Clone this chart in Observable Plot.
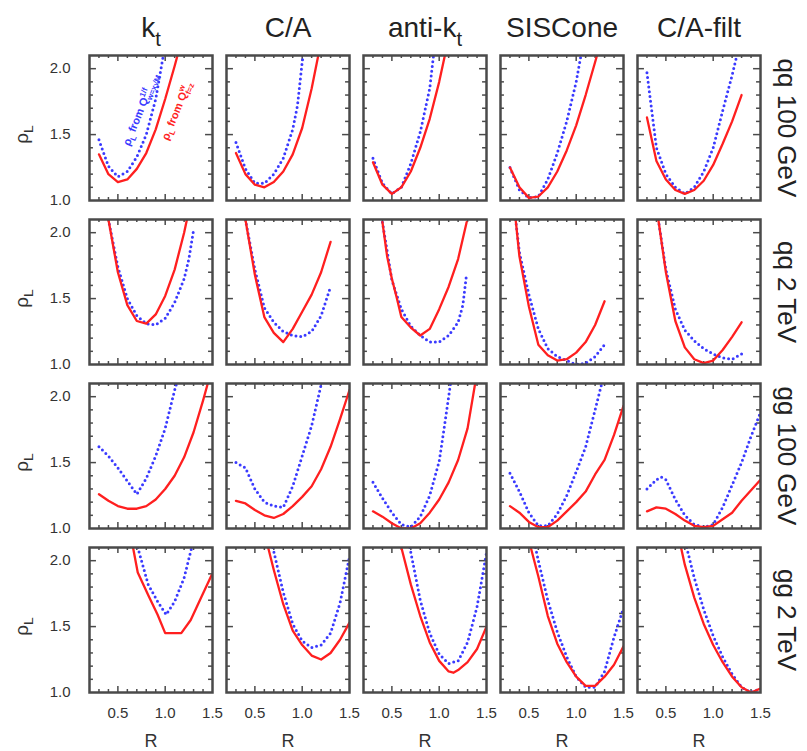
<!DOCTYPE html>
<html><head><meta charset="utf-8">
<script src="https://cdn.jsdelivr.net/npm/d3@7"></script>
<script src="https://cdn.jsdelivr.net/npm/@observablehq/plot@0.6"></script>
<style>
body{margin:0;background:#fff;}
svg{font-family:"Liberation Sans",Arial,Helvetica,sans-serif;}
</style>
</head><body><div id="chart"></div>
<script>
// ---- categories ----
const algorithms = ["k_t", "C/A", "anti-k_t", "SISCone", "C/A-filt"];
const processes = ["qq 100 GeV", "qq 2 TeV", "gg 100 GeV", "gg 2 TeV"];
const xTickLabels = [0.5, 1.0, 1.5];
const yTickLabels = [1.0, 1.5, 2.0];
const xMinorTicks = [0.3, 0.4, 0.6, 0.7, 0.8, 0.9, 1.1, 1.2, 1.3, 1.4];
const xMajorTicks = [0.5, 1.0];
const yMinorTicks = [1.1, 1.2, 1.3, 1.4, 1.6, 1.7, 1.8, 1.9];
const yMajorTicks = [1.5, 2.0];

// ---- series: [R, rho_L]; red = from Q^w_{f=z} (solid), blue = from Q^{1/f}_{w} (dotted) ----
// qq 100 GeV
const kt_qq100_red   = [[0.3,1.35],[0.4,1.2],[0.5,1.14],[0.6,1.16],[0.7,1.24],[0.8,1.36],[0.9,1.54],[1.0,1.77],[1.1,2.02],[1.13,2.1]];
const kt_qq100_blue  = [[0.3,1.46],[0.4,1.26],[0.5,1.18],[0.6,1.22],[0.7,1.33],[0.8,1.5],[0.9,1.77],[0.98,2.1]];
const ca_qq100_red   = [[0.3,1.36],[0.4,1.2],[0.5,1.12],[0.6,1.1],[0.7,1.14],[0.8,1.22],[0.9,1.35],[1.0,1.55],[1.1,1.85],[1.17,2.1]];
const ca_qq100_blue  = [[0.3,1.44],[0.4,1.24],[0.5,1.13],[0.6,1.13],[0.7,1.2],[0.8,1.32],[0.9,1.54],[0.95,1.72],[1.0,2.05],[1.01,2.1]];
const akt_qq100_red  = [[0.3,1.29],[0.4,1.12],[0.5,1.05],[0.6,1.1],[0.7,1.22],[0.8,1.4],[0.9,1.62],[1.0,1.9],[1.06,2.1]];
const akt_qq100_blue = [[0.3,1.32],[0.4,1.13],[0.5,1.05],[0.6,1.1],[0.7,1.28],[0.8,1.52],[0.9,1.85],[0.94,2.1]];
const sis_qq100_red  = [[0.3,1.25],[0.4,1.1],[0.5,1.02],[0.6,1.03],[0.7,1.1],[0.8,1.22],[0.9,1.38],[1.0,1.57],[1.1,1.8],[1.22,2.1]];
const sis_qq100_blue = [[0.3,1.25],[0.4,1.08],[0.5,1.02],[0.6,1.03],[0.7,1.16],[0.8,1.36],[0.9,1.6],[1.0,1.9],[1.05,2.1]];
const filt_qq100_red = [[0.3,1.63],[0.4,1.3],[0.5,1.16],[0.6,1.08],[0.7,1.05],[0.8,1.08],[0.9,1.15],[1.0,1.27],[1.1,1.43],[1.2,1.6],[1.3,1.8]];
const filt_qq100_blue= [[0.3,1.97],[0.4,1.4],[0.5,1.2],[0.6,1.1],[0.7,1.05],[0.8,1.1],[0.9,1.22],[1.0,1.4],[1.1,1.68],[1.2,1.95],[1.25,2.1]];
// qq 2 TeV
const kt_qq2_red   = [[0.4,2.1],[0.5,1.7],[0.6,1.45],[0.7,1.33],[0.8,1.31],[0.9,1.38],[1.0,1.52],[1.1,1.72],[1.2,2.0],[1.23,2.1]];
const kt_qq2_blue  = [[0.4,2.1],[0.5,1.74],[0.6,1.5],[0.7,1.37],[0.8,1.31],[0.9,1.3],[1.0,1.35],[1.1,1.47],[1.2,1.65],[1.25,1.8],[1.3,2.02]];
const ca_qq2_red   = [[0.4,2.1],[0.5,1.68],[0.6,1.36],[0.7,1.24],[0.8,1.17],[0.9,1.27],[1.0,1.4],[1.1,1.53],[1.2,1.7],[1.3,1.93]];
const ca_qq2_blue  = [[0.4,2.1],[0.5,1.72],[0.6,1.43],[0.7,1.32],[0.8,1.25],[0.9,1.22],[1.0,1.21],[1.1,1.25],[1.2,1.37],[1.3,1.59]];
const akt_qq2_red  = [[0.4,2.08],[0.45,1.82],[0.5,1.65],[0.55,1.51],[0.6,1.36],[0.7,1.28],[0.8,1.22],[0.9,1.27],[1.0,1.42],[1.1,1.59],[1.2,1.8],[1.29,2.08]];
const akt_qq2_blue = [[0.4,2.08],[0.5,1.64],[0.6,1.42],[0.7,1.29],[0.8,1.22],[0.9,1.17],[1.0,1.17],[1.1,1.22],[1.2,1.32],[1.25,1.45],[1.29,1.69]];
const sis_qq2_red  = [[0.36,2.1],[0.4,1.82],[0.5,1.44],[0.6,1.15],[0.7,1.07],[0.8,1.03],[0.9,1.04],[1.0,1.09],[1.1,1.17],[1.2,1.3],[1.3,1.48]];
const sis_qq2_blue = [[0.36,2.1],[0.4,1.85],[0.5,1.53],[0.6,1.27],[0.7,1.12],[0.8,1.06],[0.9,1.03],[1.0,1.0],[1.1,1.01],[1.2,1.06],[1.3,1.15]];
const filt_qq2_red = [[0.42,2.1],[0.5,1.7],[0.6,1.33],[0.7,1.13],[0.8,1.04],[0.9,1.01],[1.0,1.03],[1.1,1.11],[1.2,1.21],[1.3,1.32]];
const filt_qq2_blue= [[0.42,2.1],[0.5,1.72],[0.6,1.42],[0.7,1.26],[0.8,1.18],[0.9,1.12],[1.0,1.08],[1.1,1.05],[1.2,1.04],[1.3,1.08]];
// gg 100 GeV
const kt_gg100_red   = [[0.3,1.26],[0.4,1.21],[0.5,1.17],[0.6,1.15],[0.7,1.15],[0.8,1.17],[0.9,1.22],[1.0,1.3],[1.1,1.4],[1.2,1.54],[1.3,1.73],[1.4,1.97],[1.45,2.1]];
const kt_gg100_blue  = [[0.3,1.62],[0.4,1.55],[0.5,1.46],[0.6,1.36],[0.7,1.26],[0.8,1.38],[0.9,1.55],[1.0,1.76],[1.1,2.05],[1.12,2.1]];
const ca_gg100_red   = [[0.3,1.21],[0.4,1.19],[0.5,1.14],[0.6,1.1],[0.7,1.08],[0.8,1.11],[0.9,1.17],[1.0,1.24],[1.1,1.32],[1.2,1.45],[1.3,1.62],[1.4,1.83],[1.5,2.05]];
const ca_gg100_blue  = [[0.3,1.5],[0.4,1.46],[0.5,1.3],[0.6,1.2],[0.7,1.17],[0.8,1.16],[0.9,1.32],[1.0,1.55],[1.1,1.78],[1.2,2.09]];
const akt_gg100_red  = [[0.3,1.13],[0.4,1.09],[0.5,1.04],[0.6,1.0],[0.7,1.0],[0.8,1.04],[0.9,1.12],[1.0,1.22],[1.1,1.35],[1.2,1.52],[1.3,1.76],[1.38,2.1]];
const akt_gg100_blue = [[0.3,1.35],[0.4,1.23],[0.5,1.12],[0.6,1.03],[0.7,1.01],[0.8,1.09],[0.9,1.25],[1.0,1.51],[1.05,1.75],[1.12,2.1]];
const sis_gg100_red  = [[0.3,1.17],[0.4,1.12],[0.5,1.05],[0.6,1.01],[0.7,1.01],[0.8,1.06],[0.9,1.13],[1.0,1.2],[1.1,1.28],[1.2,1.41],[1.3,1.52],[1.4,1.71],[1.5,1.93]];
const sis_gg100_blue = [[0.3,1.42],[0.4,1.28],[0.5,1.12],[0.6,1.02],[0.7,1.02],[0.8,1.11],[0.9,1.25],[1.0,1.43],[1.1,1.62],[1.2,1.9],[1.27,2.1]];
const filt_gg100_red = [[0.3,1.13],[0.4,1.16],[0.5,1.15],[0.6,1.11],[0.7,1.06],[0.8,1.02],[0.9,1.01],[1.0,1.02],[1.1,1.07],[1.2,1.12],[1.3,1.21],[1.4,1.29],[1.5,1.37]];
const filt_gg100_blue= [[0.3,1.3],[0.4,1.37],[0.45,1.39],[0.5,1.37],[0.6,1.22],[0.7,1.1],[0.8,1.03],[0.9,1.01],[1.0,1.03],[1.1,1.16],[1.2,1.33],[1.3,1.5],[1.4,1.7],[1.5,1.88]];
// gg 2 TeV
const kt_gg2_red   = [[0.66,2.1],[0.71,1.91],[0.82,1.74],[0.92,1.59],[1.0,1.45],[1.17,1.45],[1.27,1.55],[1.38,1.72],[1.49,1.89]];
const kt_gg2_blue  = [[0.71,2.1],[0.82,1.82],[0.92,1.69],[1.01,1.59],[1.1,1.69],[1.2,1.87],[1.28,2.1]];
const ca_gg2_red   = [[0.64,2.1],[0.7,1.93],[0.8,1.67],[0.9,1.47],[1.0,1.36],[1.1,1.28],[1.2,1.25],[1.3,1.3],[1.4,1.4],[1.5,1.53]];
const ca_gg2_blue  = [[0.69,2.1],[0.8,1.76],[0.9,1.52],[1.0,1.39],[1.1,1.34],[1.2,1.36],[1.3,1.45],[1.4,1.68],[1.5,2.03]];
const akt_gg2_red  = [[0.6,2.1],[0.7,1.82],[0.8,1.58],[0.9,1.38],[1.0,1.24],[1.1,1.16],[1.15,1.15],[1.2,1.17],[1.3,1.23],[1.4,1.33],[1.5,1.5]];
const akt_gg2_blue = [[0.69,2.1],[0.8,1.7],[0.9,1.45],[1.0,1.29],[1.1,1.22],[1.2,1.24],[1.3,1.38],[1.4,1.65],[1.5,2.06]];
const sis_gg2_red  = [[0.52,2.1],[0.6,1.88],[0.7,1.58],[0.8,1.37],[0.9,1.23],[1.0,1.12],[1.1,1.05],[1.2,1.05],[1.3,1.12],[1.4,1.21],[1.5,1.35]];
const sis_gg2_blue = [[0.57,2.1],[0.6,2.0],[0.7,1.7],[0.8,1.46],[0.9,1.27],[1.0,1.12],[1.1,1.04],[1.2,1.04],[1.3,1.16],[1.4,1.42],[1.5,1.64]];
const filt_gg2_red = [[0.66,2.1],[0.7,1.97],[0.8,1.72],[0.9,1.52],[1.0,1.36],[1.1,1.23],[1.2,1.12],[1.3,1.04],[1.4,1.0],[1.5,1.03]];
const filt_gg2_blue= [[0.72,2.1],[0.8,1.87],[0.9,1.63],[1.0,1.43],[1.1,1.27],[1.2,1.14],[1.3,1.04],[1.4,1.0],[1.5,1.03]];

// annotation labels (panel k_t, qq 100 GeV)
const annotations = [
  {alg: "k_t", proc: "qq 100 GeV", R: 0.74, rho: 1.69, text: "ρ_L from Q^{1/f}_{w=x√M}", series: "blue"},
  {alg: "k_t", proc: "qq 100 GeV", R: 1.12, rho: 1.68, text: "ρ_L from Q^{w}_{f=z}", series: "red"}
];

const panels = [
  ["k_t","qq 100 GeV",kt_qq100_red,kt_qq100_blue],["C/A","qq 100 GeV",ca_qq100_red,ca_qq100_blue],
  ["anti-k_t","qq 100 GeV",akt_qq100_red,akt_qq100_blue],["SISCone","qq 100 GeV",sis_qq100_red,sis_qq100_blue],
  ["C/A-filt","qq 100 GeV",filt_qq100_red,filt_qq100_blue],
  ["k_t","qq 2 TeV",kt_qq2_red,kt_qq2_blue],["C/A","qq 2 TeV",ca_qq2_red,ca_qq2_blue],
  ["anti-k_t","qq 2 TeV",akt_qq2_red,akt_qq2_blue],["SISCone","qq 2 TeV",sis_qq2_red,sis_qq2_blue],
  ["C/A-filt","qq 2 TeV",filt_qq2_red,filt_qq2_blue],
  ["k_t","gg 100 GeV",kt_gg100_red,kt_gg100_blue],["C/A","gg 100 GeV",ca_gg100_red,ca_gg100_blue],
  ["anti-k_t","gg 100 GeV",akt_gg100_red,akt_gg100_blue],["SISCone","gg 100 GeV",sis_gg100_red,sis_gg100_blue],
  ["C/A-filt","gg 100 GeV",filt_gg100_red,filt_gg100_blue],
  ["k_t","gg 2 TeV",kt_gg2_red,kt_gg2_blue],["C/A","gg 2 TeV",ca_gg2_red,ca_gg2_blue],
  ["anti-k_t","gg 2 TeV",akt_gg2_red,akt_gg2_blue],["SISCone","gg 2 TeV",sis_gg2_red,sis_gg2_blue],
  ["C/A-filt","gg 2 TeV",filt_gg2_red,filt_gg2_blue]
];

const rows = [];
for (const [alg, proc, red, blue] of panels) {
  for (const [R, rho] of red) rows.push({alg, proc, series: "red", R, rho});
  for (const [R, rho] of blue) rows.push({alg, proc, series: "blue", R, rho});
}

// ---- layout ----
const W = 807, H = 751, mL = 88, mR = 46, mT = 53, mB = 57;
const fxPad = 0.105, fyPad = 0.115;
const bandW = (W - mL - mR) / (algorithms.length - fxPad) * (1 - fxPad);
const bandH = (H - mT - mB) / (processes.length - fyPad) * (1 - fyPad);
const RED = "#ff1f1f", BLUE = "#3a3aff", INK = "#4a4a4a";
const majLen = 7, minLen = 4;

const chart = Plot.plot({
  width: W, height: H,
  marginLeft: mL, marginRight: mR, marginTop: mT, marginBottom: mB,
  style: {fontFamily: "Liberation Sans, Arial, Helvetica, sans-serif", background: "#fff", color: "#333"},
  fx: {domain: algorithms, paddingInner: fxPad, paddingOuter: 0, axis: null},
  fy: {domain: processes, paddingInner: fyPad, paddingOuter: 0, axis: null},
  x: {domain: [0.2, 1.5]},
  y: {domain: [1.0, 2.1]},
  marks: [
    // inward ticks on all four sides
    Plot.ruleX(xMajorTicks, {x: d => d, insetBottom: bandH - majLen, stroke: INK, strokeWidth: 1.5}),
    Plot.ruleX(xMajorTicks, {x: d => d, insetTop: bandH - majLen, stroke: INK, strokeWidth: 1.5}),
    Plot.ruleX(xMinorTicks, {x: d => d, insetBottom: bandH - minLen, stroke: INK, strokeWidth: 1.5}),
    Plot.ruleX(xMinorTicks, {x: d => d, insetTop: bandH - minLen, stroke: INK, strokeWidth: 1.5}),
    Plot.ruleY(yMajorTicks, {y: d => d, insetRight: bandW - majLen, stroke: INK, strokeWidth: 1.5}),
    Plot.ruleY(yMajorTicks, {y: d => d, insetLeft: bandW - majLen, stroke: INK, strokeWidth: 1.5}),
    Plot.ruleY(yMinorTicks, {y: d => d, insetRight: bandW - minLen, stroke: INK, strokeWidth: 1.5}),
    Plot.ruleY(yMinorTicks, {y: d => d, insetLeft: bandW - minLen, stroke: INK, strokeWidth: 1.5}),
    // curves
    Plot.line(rows.filter(d => d.series === "blue"), {
      x: "R", y: "rho", fx: "alg", fy: "proc", stroke: BLUE, strokeWidth: 3,
      strokeDasharray: "0,4.8", strokeLinecap: "round", clip: true
    }),
    Plot.line(rows.filter(d => d.series === "red"), {
      x: "R", y: "rho", fx: "alg", fy: "proc", stroke: RED, strokeWidth: 2.3, clip: true
    }),
    Plot.frame({stroke: INK, strokeWidth: 2.5}),
    // axes
    Plot.axisY({ticks: yTickLabels, tickFormat: d3.format(".1f"), tickSize: 0, tickPadding: 19, fontSize: 15, label: null}),
    Plot.axisX({ticks: xTickLabels, tickFormat: d3.format(".1f"), tickSize: 0, tickPadding: 15, fontSize: 15, label: null}),
    // column titles
    Plot.text(algorithms, {fx: d => d, fy: () => processes[0], text: d => d, frameAnchor: "top", dy: -27,
      lineAnchor: "middle", fontSize: 28, fill: "#222"}),
    // row labels
    Plot.text(processes, {fy: d => d, fx: () => algorithms[algorithms.length - 1], text: d => d, frameAnchor: "right",
      dx: 26, rotate: 90, textAnchor: "middle", lineAnchor: "middle", fontSize: 26, fill: "#222"}),
    // y label
    Plot.text(processes, {fy: d => d, fx: () => algorithms[0], y: () => 1.5, text: () => "ρ_L", frameAnchor: "left",
      dx: -68, rotate: -90, textAnchor: "middle", lineAnchor: "middle", fontSize: 19, fill: "#333"}),
    // x label
    Plot.text(algorithms, {fx: d => d, fy: () => processes[processes.length - 1], text: () => "R", frameAnchor: "bottom",
      dy: 49, lineAnchor: "middle", fontSize: 18, fill: "#333"}),
    // annotations
    Plot.text(annotations, {fx: "alg", fy: "proc", x: "R", y: "rho", text: "text", rotate: -68,
      fill: d => d.series === "red" ? RED : BLUE, fontSize: 11, fontWeight: "bold"})
  ]
});

document.getElementById("chart").appendChild(chart);

// render _{sub} and ^{sup} as tspans
(function richify(svg) {
  const NS = "http://www.w3.org/2000/svg";
  svg.querySelectorAll("text").forEach(el => {
    if (el.children.length) return;
    const s = el.textContent;
    if (!/[_^]/.test(s)) return;
    const fs = parseFloat(getComputedStyle(el).fontSize) || 12;
    el.textContent = "";
    const re = /([_^])\{([^}]*)\}|([_^])(.)|([^_^]+)/g;
    let m, shift = 0, prev = null, prevKind = null;
    while ((m = re.exec(s))) {
      const kind = m[1] || m[3] || "n";
      const txt = m[2] ?? m[4] ?? m[5];
      const t = document.createElementNS(NS, "tspan");
      let target = 0;
      if (kind === "_") { target = 0.3 * fs; t.setAttribute("font-size", 0.72 * fs); }
      else if (kind === "^") { target = -0.42 * fs; t.setAttribute("font-size", 0.72 * fs); }
      if (target !== shift) t.setAttribute("dy", target - shift);
      shift = target;
      t.textContent = txt;
      el.appendChild(t);
      if (kind === "_" && prevKind === "^" && prev) {
        t.setAttribute("dx", -prev.getComputedTextLength());
      }
      prev = t; prevKind = kind;
    }
  });
})(chart);
</script>
</body></html>
